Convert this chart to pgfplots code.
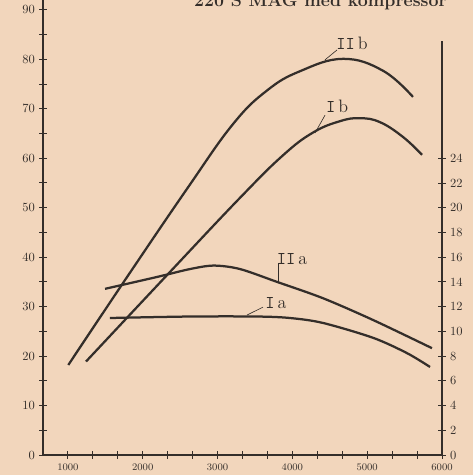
\documentclass[border=0pt]{standalone}
\usepackage{pgfplots}
\pgfplotsset{compat=1.18}
\definecolor{paper}{RGB}{242,214,188}
\definecolor{ink}{RGB}{52,46,42}

\begin{document}
\begin{tikzpicture}
% page = scanned sheet, axis box starts at (0,0); 1 px of the scan = 0.8pt
\path[use as bounding box, fill=paper] (-34.4pt,-16pt) rectangle (344pt,364pt);

\begin{axis}[
    at={(0,0)}, anchor=south west,
    scale only axis, width=319.2pt, height=364pt,
    xmin=667, xmax=6000, ymin=0, ymax=92,
    axis x line*=bottom, axis y line*=left,
    axis line style={ink, line width=0.9pt},
    xtick={1000,2000,...,6000}, minor x tick num=2,
    ytick={0,10,...,90}, minor y tick num=1,
    tick align=center, major tick length=6pt, minor tick length=6pt,
    tick style={ink, line width=0.8pt},
    scaled x ticks=false,
    /pgf/number format/1000 sep={},
    xticklabel style={font=\footnotesize, text=ink, yshift=-1pt},
    yticklabel style={font=\normalsize, text=ink},
    clip=false,
]
% II b
\addplot[ink, line width=1.8pt, smooth, tension=0.7] coordinates {
  (1005,18.2) (1800,36.2) (2600,54.0) (3206,66.9) (3661,73.7) (4102,77.6)
  (4677,80.1) (5211,77.7) (5612,72.4)};
% I b
\addplot[ink, line width=1.8pt, smooth, tension=0.7] coordinates {
  (1242,18.9) (2320,36.3) (3300,52.0) (3875,60.6) (4276,65.2) (4637,67.5)
  (4904,68.1) (5171,67.3) (5479,64.3) (5733,60.7)};
% II a
\addplot[ink, line width=1.8pt, smooth, tension=0.5] coordinates {
  (1496,33.6) (2191,36.0) (2632,37.6) (2950,38.3) (3300,37.6) (3795,35.0)
  (4409,31.7) (5078,27.3) (5866,21.6)};
% I a
\addplot[ink, line width=1.8pt, smooth, tension=0.5] coordinates {
  (1562,27.7) (2632,28.0) (3527,28.0) (3968,27.7) (4409,26.7) (5078,23.7)
  (5532,20.6) (5840,17.8)};

\node[text=ink, font=\Large] at (axis cs:4797,83.3) {\texttt{II}\,b};
\draw[ink, line width=0.5pt] (axis cs:4436,79.9) -- (axis cs:4597,81.9);
\node[text=ink, font=\Large] at (axis cs:4597,70.4) {\texttt{I}\,b};
\draw[ink, line width=0.5pt] (axis cs:4302,65.1) -- (axis cs:4436,68.7);
\node[text=ink, font=\Large] at (axis cs:3995,39.6) {\texttt{II}\,a};
\draw[ink, line width=0.5pt] (axis cs:3808,38.8) -- (axis cs:3808,35.0);
\node[text=ink, font=\Large] at (axis cs:3781,30.7) {\texttt{I}\,a};
\draw[ink, line width=0.5pt] (axis cs:3394,28.3) -- (axis cs:3608,29.9);
\end{axis}

% right hand scale (0.4 of the left one)
\begin{axis}[
    at={(0,0)}, anchor=south west,
    scale only axis, width=319.2pt, height=331.2pt,
    xmin=667, xmax=6000, ymin=0, ymax=33.5,
    axis x line=none, axis y line*=right,
    axis line style={ink, line width=0.9pt},
    ytick={0,2,...,24},
    tick align=center, major tick length=6pt,
    tick style={ink, line width=0.8pt},
    yticklabel style={font=\normalsize, text=ink},
]
\end{axis}

\node[anchor=base east, inner sep=0pt, text=ink,
      font=\fontsize{14.2}{17}\selectfont\bfseries] at (323.2pt,358.4pt)
      {220 S MAG med kompressor};
\end{tikzpicture}
\end{document}
